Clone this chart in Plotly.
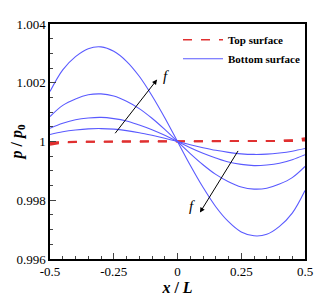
import plotly.graph_objects as go

x = [-0.5, -0.45, -0.4, -0.35, -0.3, -0.25, -0.2, -0.15, -0.1, -0.05, 0.0,
     0.05, 0.1, 0.15, 0.2, 0.25, 0.3, 0.35, 0.4, 0.45, 0.5]

bottom_1 = [1.00170, 1.00244, 1.00289, 1.00316, 1.00322, 1.00307, 1.00273, 1.00222, 1.00156, 1.00081, 1.00000,
            0.99919, 0.99844, 0.99778, 0.99727, 0.99692, 0.99679, 0.99684, 0.99711, 0.99756, 0.99833]
bottom_2 = [1.00085, 1.00123, 1.00145, 1.00159, 1.00162, 1.00155, 1.00137, 1.00112, 1.00079, 1.00041, 1.00000,
            0.99959, 0.99921, 0.99888, 0.99863, 0.99845, 0.99838, 0.99841, 0.99855, 0.99877, 0.99915]
bottom_3 = [1.00045, 1.00062, 1.00074, 1.00080, 1.00082, 1.00078, 1.00070, 1.00056, 1.00040, 1.00021, 1.00000,
            0.99979, 0.99960, 0.99944, 0.99930, 0.99922, 0.99918, 0.99920, 0.99926, 0.99938, 0.99955]
bottom_4 = [1.00024, 1.00033, 1.00039, 1.00043, 1.00044, 1.00042, 1.00037, 1.00030, 1.00021, 1.00011, 1.00000,
            0.99989, 0.99979, 0.99970, 0.99963, 0.99958, 0.99956, 0.99957, 0.99961, 0.99967, 0.99976]

top_1 = [0.99988, 0.99996, 0.99998, 0.99999, 0.99999, 1.00000, 1.00000, 1.00000, 1.00000, 1.00000, 1.00000,
         1.00000, 1.00000, 1.00000, 1.00001, 1.00001, 1.00001, 1.00002, 1.00003, 1.00005, 1.00012]
top_2 = [0.99992, 0.99997, 0.99999, 0.99999, 1.00000, 1.00000, 1.00000, 1.00000, 1.00000, 1.00000, 1.00000,
         1.00000, 1.00000, 1.00000, 1.00000, 1.00001, 1.00001, 1.00001, 1.00002, 1.00004, 1.00008]
top_3 = [0.99995, 0.99998, 0.99999, 1.00000, 1.00000, 1.00000, 1.00000, 1.00000, 1.00000, 1.00000, 1.00000,
         1.00000, 1.00000, 1.00000, 1.00000, 1.00000, 1.00001, 1.00001, 1.00001, 1.00002, 1.00005]
top_4 = [0.99997, 0.99999, 1.00000, 1.00000, 1.00000, 1.00000, 1.00000, 1.00000, 1.00000, 1.00000, 1.00000,
         1.00000, 1.00000, 1.00000, 1.00000, 1.00000, 1.00000, 1.00000, 1.00001, 1.00001, 1.00003]

x_ticks = [-0.5, -0.25, 0, 0.25, 0.5]
x_ticktext = ["-0.5", "-0.25", "0", "0.25", "0.5"]
y_ticks = [0.996, 0.998, 1.0, 1.002, 1.004]
y_ticktext = ["0.996", "0.998", "1", "1.002", "1.004"]

RED = "#e03030"
BLUE = "#5a5aff"
FONT = "Liberation Serif"

fig = go.Figure()
for i, ys in enumerate([top_1, top_2, top_3, top_4]):
    fig.add_trace(go.Scatter(x=x, y=ys, mode="lines", line=dict(color=RED, width=1.6, dash="dash"),
                             name="Top surface", showlegend=(i == 0), legendrank=1))
for i, ys in enumerate([bottom_1, bottom_2, bottom_3, bottom_4]):
    fig.add_trace(go.Scatter(x=x, y=ys, mode="lines", line=dict(color=BLUE, width=1.1, shape="spline"),
                             name="Bottom surface", showlegend=(i == 0), legendrank=2))

# arrows
fig.add_annotation(x=-0.080, y=1.00211, ax=-0.249, ay=1.00023, xref="x", yref="y", axref="x", ayref="y",
                   showarrow=True, arrowhead=2, arrowsize=1, arrowwidth=1, arrowcolor="black", text="")
fig.add_annotation(x=-0.045, y=1.00222, text="<i>f</i>", showarrow=False, xref="x", yref="y",
                   font=dict(family=FONT, size=15, color="black"))
fig.add_annotation(x=0.088, y=0.99758, ax=0.241, ay=0.99973, xref="x", yref="y", axref="x", ayref="y",
                   showarrow=True, arrowhead=2, arrowsize=1, arrowwidth=1, arrowcolor="black", text="")
fig.add_annotation(x=0.055, y=0.99782, text="<i>f</i>", showarrow=False, xref="x", yref="y",
                   font=dict(family=FONT, size=15, color="black"))

fig.update_layout(
    width=324, height=288,
    margin=dict(l=42, r=27, t=16, b=37),
    paper_bgcolor="white", plot_bgcolor="white",
    font=dict(family=FONT, size=13, color="black"),
    legend=dict(x=1.0, y=0.995, xanchor="right", yanchor="top", bgcolor="rgba(0,0,0,0)",
                font=dict(family=FONT, size=11, color="black", weight="bold"),
                tracegroupgap=0, itemwidth=40),
    xaxis=dict(range=[-0.5, 0.5], tickvals=x_ticks, ticktext=x_ticktext, ticks="inside", ticklen=6,
               showgrid=False, zeroline=False, showline=True, linecolor="black", linewidth=1.5, mirror=True,
               automargin=False,
               minor=dict(dtick=0.05, ticks="inside", ticklen=3, showgrid=False),
               title=dict(text="<b><i>x</i> / <i>L</i></b>", font=dict(family=FONT, size=16), standoff=0)),
    yaxis=dict(range=[0.996, 1.004], tickvals=y_ticks, ticktext=y_ticktext, ticks="inside", ticklen=6,
               showgrid=False, zeroline=False, showline=True, linecolor="black", linewidth=1.5, mirror=True,
               automargin=False,
               minor=dict(dtick=0.0005, ticks="inside", ticklen=3, showgrid=False),
               title=dict(text="<b><i>p</i> / <i>p</i><sub>0</sub></b>", font=dict(family=FONT, size=16), standoff=4)),
)

fig.write_html("out.html")
